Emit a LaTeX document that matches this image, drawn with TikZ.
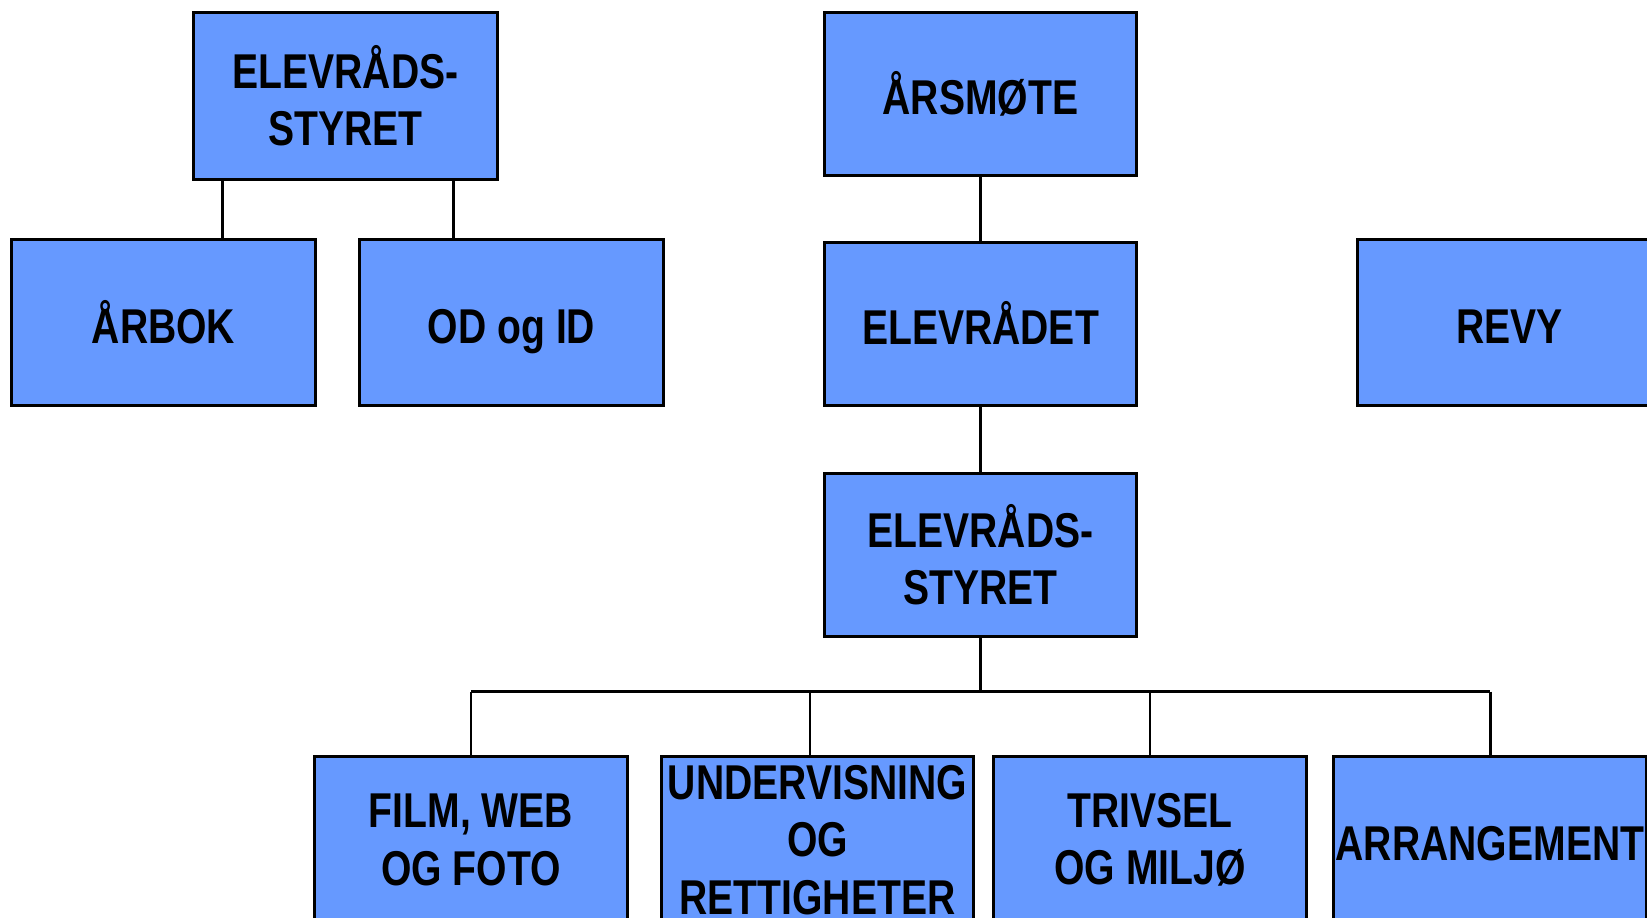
\documentclass[tikz,border=0pt]{standalone}
\usepackage{fontspec}
\setmainfont{Liberation Sans}[FakeStretch=0.8]
\definecolor{boxblue}{HTML}{6699FF}
\begin{document}
\begin{tikzpicture}[x=0.01cm, y=-0.01cm, line width=0.85pt,
    orgbox/.style={draw, fill=boxblue, align=center, inner sep=0pt,
        minimum width=3.03cm, minimum height=1.66cm,
        font=\fontsize{13.9}{16.3}\selectfont\bfseries},
    oneline/.style={text height=14.6pt, text depth=2.9pt},
    midbox/.style={orgbox, minimum width=3.12cm, minimum height=1.62cm},
    lowbox/.style={orgbox, minimum width=3.12cm}]
        \useasboundingbox (0,0) rectangle (1647,918);
        \clip (0,0) rectangle (1647,918);
        \node[orgbox] at (345.5,96) (StyreTop) {ELEVRÅDS-\\STYRET};
        \node[orgbox, oneline] at (163.5,322.5) (Aarbok) {ÅRBOK};
        \node[orgbox, oneline] at (511.5,322.5) (ODID) {OD og ID};
        \node[midbox, oneline] at (980.5,94) (Aarsmote) {ÅRSMØTE};
        \node[midbox, oneline] at (980.5,324) (Elevraad) {ELEVRÅDET};
        \node[midbox] at (980.5,555) (Styre) {ELEVRÅDS-\\STYRET};
        \node[orgbox, oneline] at (1509.5,322.5) (Revy) {REVY};
        \node[lowbox] at (471,840) (Film) {FILM, WEB\\OG FOTO};
        \node[lowbox] at (817.5,840) (Underv) {UNDERVISNING\\OG\\RETTIGHETER};
        \node[lowbox] at (1150,840) (Trivsel) {TRIVSEL\\OG MILJØ};
        \node[lowbox, oneline] at (1490,840) (Arr) {ARRANGEMENT};
        \draw ([xshift=0.3cm]StyreTop.south west) coordinate (LinkA) -- (LinkA |- Aarbok.north);
        \draw ([xshift=-0.45cm]StyreTop.south east) coordinate (LinkB) -- (LinkB |- ODID.north);
        \draw (Aarsmote) -- (Elevraad);
        \draw (Elevraad) -- (Styre);
        \draw (Styre.south) -- ++(0,54) coordinate (Bus);
        \draw (Bus -| Film.north) -- (Bus -| Arr.north);
        \foreach \n in {Film,Trivsel,Arr}
            \draw (Bus -| \n.north) -- (\n.north);
        \draw ([xshift=-0.075cm]Underv.north) coordinate (LinkU) -- (LinkU |- Bus);
    \end{tikzpicture}
\end{document}
